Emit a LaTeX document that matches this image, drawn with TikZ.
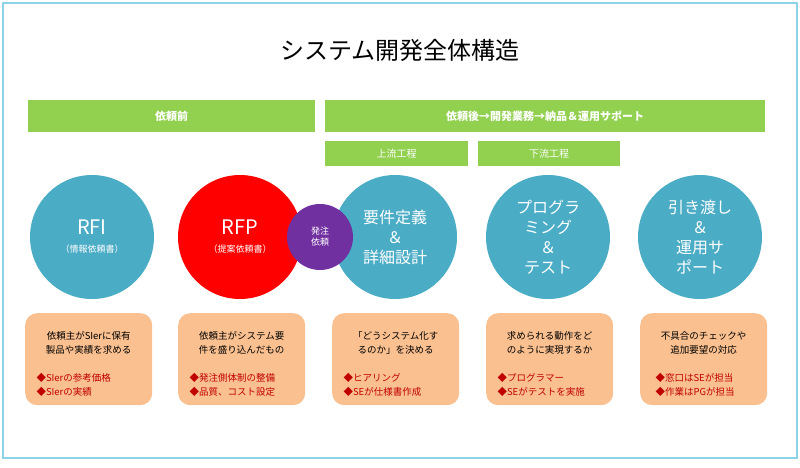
\documentclass[tikz,border=0pt]{standalone}
\usepackage{fontspec}
\setmainfont{Noto Sans CJK JP}
\usetikzlibrary{positioning}
\definecolor{barGreen}{HTML}{92D050}
\definecolor{ballBlue}{HTML}{4BACC6}
\definecolor{ballPurple}{HTML}{7030A0}
\definecolor{noteOrange}{HTML}{FAC090}
\definecolor{noteRed}{HTML}{C00000}
\definecolor{frameBlue}{HTML}{8DD3E8}
\tikzset{
	bar/.style={fill=barGreen, text=white, font=\bfseries\fontsize{11}{13}\selectfont, inner sep=0pt, anchor=north west},
	ball/.style={circle, minimum size=124pt, inner sep=0pt, text=white, align=center, font=\fontsize{16}{20}\selectfont},
	note/.style={fill=noteOrange, rounded corners=12pt, minimum width=127pt, minimum height=92pt, inner sep=0pt, anchor=north west},
	notetext/.style={align=center, font=\fontsize{9.5}{13.5}\selectfont},
	noteitem/.style={align=left, text=noteRed, font=\fontsize{9.5}{13.5}\selectfont}
}
\begin{document}
\begin{tikzpicture}[x=1pt, y=-1pt]
	% Frame and title:
	\useasboundingbox (0, 0) rectangle (800, 468);
	\draw[frameBlue, line width=1.2pt] (3, 3) rectangle (797, 458);
	\node (title) at (400, 50) {\fontsize{24}{28}\selectfont システム開発全体構造};
	% Phase bars:
	\node[bar, minimum width=287pt, minimum height=32pt] (pre) at (28, 100) {依頼前};
	\node[bar, minimum width=440pt, minimum height=32pt] (post) at (325, 100) {依頼後→開発業務→納品＆運用サポート};
	\node[bar, minimum width=143pt, minimum height=25pt, font=\fontsize{10}{12}\selectfont] (upper) at (325, 141) {上流工程};
	\node[bar, minimum width=142pt, minimum height=25pt, font=\fontsize{10}{12}\selectfont] (lower) at (478, 141) {下流工程};
	% Circles:
	\node[ball, fill=ballBlue, font=\fontsize{20}{22}\selectfont] (rfi) at (92, 237) {RFI\\[-4pt]{\fontsize{9}{11}\selectfont （情報依頼書）}};
	\node[ball, fill=red, font=\fontsize{20}{22}\selectfont] (rfp) at (240, 237) {RFP\\[-4pt]{\fontsize{9}{11}\selectfont （提案依頼書）}};
	\node[ball, fill=ballBlue] (design) at (395, 237) {要件定義\\＆\\詳細設計};
	\node[ball, fill=ballBlue] (prog) at (548, 237) {プログラ\\ミング\\＆\\テスト};
	\node[ball, fill=ballBlue] (handover) at (700, 237) {引き渡し\\＆\\運用サ\\ポート};
	\node[circle, fill=ballPurple, minimum size=66pt, inner sep=0pt, text=white, align=center, font=\fontsize{9}{11}\selectfont] (order) at (320, 237) {発注\\依頼};
	% Notes:
	\node[note] (n1) at (25, 313) {};
	\node[note] (n2) at (178, 313) {};
	\node[note] (n3) at (332, 313) {};
	\node[note] (n4) at (486, 313) {};
	\node[note] (n5) at (640, 313) {};
	\node[notetext] at ([yshift=-30pt]n1.north) {依頼主がSIerに保有\\製品や実績を求める};
	\node[notetext] at ([yshift=-30pt]n2.north) {依頼主がシステム要\\件を盛り込んだもの};
	\node[notetext] at ([yshift=-30pt]n3.north) {「どうシステム化す\\るのか」を決める};
	\node[notetext] at ([yshift=-30pt]n4.north) {求められる動作をど\\のように実現するか};
	\node[notetext] at ([yshift=-30pt]n5.north) {不具合のチェックや\\追加要望の対応};
	\node[noteitem, anchor=north west] at ([xshift=8pt, yshift=-57pt]n1.north west) {◆SIerの参考価格\\◆SIerの実績};
	\node[noteitem, anchor=north west] at ([xshift=8pt, yshift=-57pt]n2.north west) {◆発注側体制の整備\\◆品質、コスト設定};
	\node[noteitem, anchor=north west] at ([xshift=8pt, yshift=-57pt]n3.north west) {◆ヒアリング\\◆SEが仕様書作成};
	\node[noteitem, anchor=north west] at ([xshift=8pt, yshift=-57pt]n4.north west) {◆プログラマー\\◆SEがテストを実施};
	\node[noteitem, anchor=north west] at ([xshift=12pt, yshift=-57pt]n5.north west) {◆窓口はSEが担当\\◆作業はPGが担当};
\end{tikzpicture}
\end{document}
